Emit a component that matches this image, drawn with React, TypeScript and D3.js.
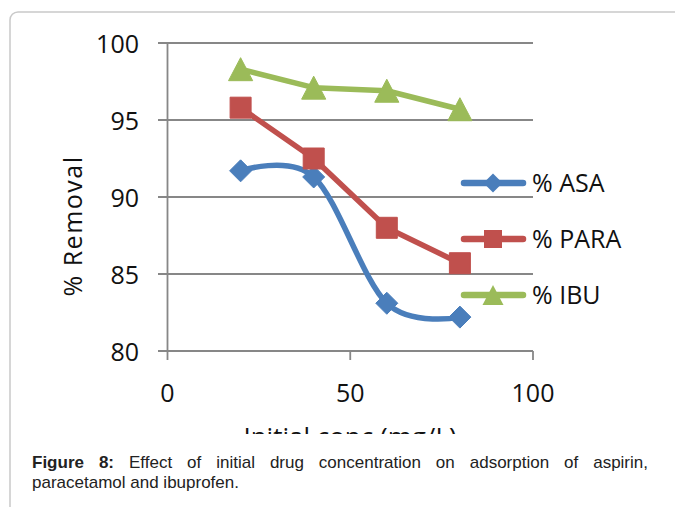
import React, { useEffect, useRef } from "react";
import * as d3 from "d3";

// Initial concentration (mg/L) and % removal per drug
const concentrations = [20, 40, 60, 80];
const asaRemoval = [91.7, 91.3, 83.1, 82.2];
const paraRemoval = [95.8, 92.5, 88.0, 85.7];
const ibuRemoval = [98.3, 97.1, 96.9, 95.7];
const seriesNames = ["% ASA", "% PARA", "% IBU"];
const xTicks = [0, 50, 100];
const yTicks = [80, 85, 90, 95, 100];
const xTitle = "Initial conc (mg/L)";
const yTitle = "% Removal";
const captionBold = ["Figure", "8:"];
const captionLine1 = "Effect of initial drug concentration on adsorption of aspirin,";
const captionLine2 = "paracetamol and ibuprofen.";

const W = 675;
const H = 507;
const FONT = "'Open Sans', sans-serif";
const CAP_FONT = "'Liberation Sans', Arial, sans-serif";

type Shape = "diamond" | "square" | "triangle";

function markerPath(shape: Shape, s: number): string {
  const h = s / 2;
  if (shape === "diamond") return `M0,${-h}L${h},0L0,${h}L${-h},0Z`;
  if (shape === "square") return `M${-h},${-h}H${h}V${h}H${-h}Z`;
  return `M0,${-h}L${h * 1.05},${h}H${-h * 1.05}Z`;
}

export default function App() {
  const ref = useRef<SVGSVGElement | null>(null);

  useEffect(() => {
    const svg = d3.select(ref.current);
    svg.selectAll("*").remove();

    const x = d3.scaleLinear().domain([0, 100]).range([167.5, 533]);
    const y = d3.scaleLinear().domain([80, 100]).range([351, 43]);

    // panel frame
    svg
      .append("path")
      .attr("d", `M10,${H}V20A8,8 0 0 1 18,12H${W}`)
      .attr("fill", "none")
      .attr("stroke", "#c9c9c9")
      .attr("stroke-width", 1.5);

    const grid = "#878787";

    // horizontal gridlines with outward ticks
    svg
      .append("g")
      .selectAll("line")
      .data(yTicks)
      .join("line")
      .attr("x1", x(0) - 9.5)
      .attr("x2", x(100))
      .attr("y1", (d) => y(d))
      .attr("y2", (d) => y(d))
      .attr("stroke", grid)
      .attr("stroke-width", 1.8);

    // vertical axis
    svg
      .append("line")
      .attr("x1", x(0))
      .attr("x2", x(0))
      .attr("y1", y(100))
      .attr("y2", y(80))
      .attr("stroke", grid)
      .attr("stroke-width", 1.8);

    // x ticks
    svg
      .append("g")
      .selectAll("line")
      .data(xTicks)
      .join("line")
      .attr("x1", (d) => x(d))
      .attr("x2", (d) => x(d))
      .attr("y1", y(80))
      .attr("y2", y(80) + 9)
      .attr("stroke", grid)
      .attr("stroke-width", 1.8);

    // y tick labels
    svg
      .append("g")
      .selectAll("text")
      .data(yTicks)
      .join("text")
      .attr("x", 139)
      .attr("y", (d) => y(d) + 9.5)
      .attr("text-anchor", "end")
      .attr("font-family", FONT)
      .attr("font-size", 25)
      .attr("fill", "#111")
      .text((d) => d3.format("d")(d));

    // x tick labels
    svg
      .append("g")
      .selectAll("text")
      .data(xTicks)
      .join("text")
      .attr("x", (d) => x(d))
      .attr("y", 402)
      .attr("text-anchor", "middle")
      .attr("font-family", FONT)
      .attr("font-size", 25)
      .attr("fill", "#111")
      .text((d) => d3.format("d")(d));

    // y title
    svg
      .append("text")
      .attr("transform", "translate(82,226) rotate(-90)")
      .attr("text-anchor", "middle")
      .attr("font-family", FONT)
      .attr("font-size", 25)
      .attr("letter-spacing", 1.5)
      .attr("fill", "#111")
      .text(yTitle);

    // x title, cut off by the caption block
    const defs = svg.append("defs");
    defs
      .append("clipPath")
      .attr("id", "xtitle-clip")
      .append("rect")
      .attr("x", 0)
      .attr("y", 0)
      .attr("width", W)
      .attr("height", 434);
    svg
      .append("text")
      .attr("clip-path", "url(#xtitle-clip)")
      .attr("x", 350)
      .attr("y", 446)
      .attr("text-anchor", "middle")
      .attr("font-family", FONT)
      .attr("font-size", 26)
      .attr("fill", "#111")
      .text(xTitle);

    const series = [
      { name: seriesNames[0], values: asaRemoval, color: "#4a7ebb", shape: "diamond" as Shape, size: 22, smooth: true },
      { name: seriesNames[1], values: paraRemoval, color: "#c0504d", shape: "square" as Shape, size: 21, smooth: false },
      { name: seriesNames[2], values: ibuRemoval, color: "#9bbb59", shape: "triangle" as Shape, size: 23, smooth: false },
    ];

    series.forEach((s) => {
      const pts: [number, number][] = concentrations.map((c, i) => [c, s.values[i]]);
      const line = d3
        .line<[number, number]>()
        .x((d) => x(d[0]))
        .y((d) => y(d[1]))
        .curve(s.smooth ? d3.curveCardinal.tension(0) : d3.curveLinear);
      const g = svg.append("g");
      g.append("path")
        .attr("d", line(pts) || "")
        .attr("fill", "none")
        .attr("stroke", s.color)
        .attr("stroke-width", 5.5)
        .attr("stroke-linejoin", "round")
        .attr("stroke-linecap", "round");
      g.selectAll("path.m")
        .data(pts)
        .join("path")
        .attr("class", "m")
        .attr("transform", (d) => `translate(${x(d[0])},${y(d[1])})`)
        .attr("d", markerPath(s.shape, s.size))
        .attr("fill", s.color)
        .attr("stroke", s.color)
        .attr("stroke-width", 1);
    });

    // legend
    const legendY = [183, 239, 295];
    series.forEach((s, i) => {
      const g = svg.append("g").attr("transform", `translate(0,${legendY[i]})`);
      g.append("line")
        .attr("x1", 464)
        .attr("x2", 523)
        .attr("y1", 0)
        .attr("y2", 0)
        .attr("stroke", s.color)
        .attr("stroke-width", 6.5)
        .attr("stroke-linecap", "round");
      g.append("path")
        .attr("transform", "translate(493,0)")
        .attr("d", markerPath(s.shape, s.size - 3))
        .attr("fill", s.color);
      g.append("text")
        .attr("x", 532)
        .attr("y", 9)
        .attr("font-family", FONT)
        .attr("font-size", 25)
        .attr("fill", "#111")
        .text(s.name);
    });

    // caption, first line justified between the margins
    const capLeft = 32;
    const capRight = 648;
    const capSize = 17;
    const words = [
      ...captionBold.map((w) => ({ w, bold: true })),
      ...captionLine1.split(" ").map((w) => ({ w, bold: false })),
    ];
    const capG = svg.append("g");
    const nodes = words.map((wd) =>
      capG
        .append("text")
        .attr("y", 468)
        .attr("font-family", CAP_FONT)
        .attr("font-size", capSize)
        .attr("font-weight", wd.bold ? "bold" : "normal")
        .attr("fill", "#222")
        .text(wd.w)
    );
    const widths = nodes.map((n) => (n.node() as SVGTextElement).getComputedTextLength());
    const total = d3.sum(widths);
    const gap = (capRight - capLeft - total) / (words.length - 1);
    let cx = capLeft;
    nodes.forEach((n, i) => {
      n.attr("x", cx);
      cx += widths[i] + gap;
    });
    capG
      .append("text")
      .attr("x", capLeft)
      .attr("y", 488)
      .attr("font-family", CAP_FONT)
      .attr("font-size", capSize)
      .attr("fill", "#222")
      .text(captionLine2);
  }, []);

  return (
    <svg
      ref={ref}
      width={W}
      height={H}
      style={{ position: "absolute", left: 0, top: 0, background: "#fff" }}
    />
  );
}
